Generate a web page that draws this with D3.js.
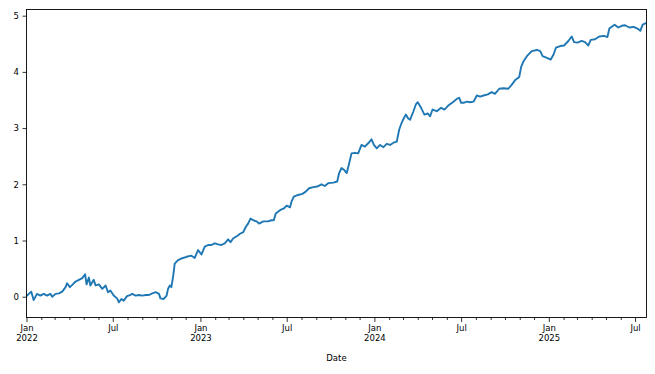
<!DOCTYPE html>
<html lang="en">

<head>
    <meta charset="UTF-8">
    <title>Cumulative series by date</title>
    <style>
        body { margin: 0; background: #fff; }
        text { font-family: "DejaVu Sans", sans-serif; }
    </style>
</head>

<body>
    <script src="https://cdn.jsdelivr.net/npm/d3@7"></script>
    <script>
        // values
        const dates = [
            '2022-01-01', '2022-01-11', '2022-01-16', '2022-01-23', '2022-01-30', '2022-02-06', '2022-02-13', '2022-02-20',
            '2022-02-24', '2022-03-03', '2022-03-10', '2022-03-17', '2022-03-24', '2022-03-27', '2022-04-02', '2022-04-07',
            '2022-04-14', '2022-04-21', '2022-04-28', '2022-05-04', '2022-05-07', '2022-05-12', '2022-05-15', '2022-05-22',
            '2022-05-26', '2022-06-02', '2022-06-09', '2022-06-16', '2022-06-21', '2022-06-26', '2022-07-03', '2022-07-10',
            '2022-07-14', '2022-07-19', '2022-07-24', '2022-07-31', '2022-08-06', '2022-08-11', '2022-08-18', '2022-08-25',
            '2022-09-01', '2022-09-08', '2022-09-15', '2022-09-22', '2022-09-29', '2022-10-06', '2022-10-09', '2022-10-16',
            '2022-10-22', '2022-10-25', '2022-10-29', '2022-11-01', '2022-11-05', '2022-11-08', '2022-11-15', '2022-11-22',
            '2022-12-03', '2022-12-13', '2022-12-20', '2022-12-27', '2023-01-03', '2023-01-10', '2023-01-17', '2023-01-24',
            '2023-01-31', '2023-02-07', '2023-02-14', '2023-02-21', '2023-02-28', '2023-03-05', '2023-03-11', '2023-03-19',
            '2023-03-25', '2023-04-01', '2023-04-06', '2023-04-11', '2023-04-16', '2023-04-22', '2023-04-29', '2023-05-04',
            '2023-05-13', '2023-05-23', '2023-05-30', '2023-06-04', '2023-06-08', '2023-06-17', '2023-06-25', '2023-07-01',
            '2023-07-08', '2023-07-11', '2023-07-16', '2023-07-25', '2023-08-03', '2023-08-10', '2023-08-17', '2023-08-26',
            '2023-09-03', '2023-09-12', '2023-09-19', '2023-09-26', '2023-10-07', '2023-10-15', '2023-10-19', '2023-10-24',
            '2023-10-29', '2023-11-04', '2023-11-09', '2023-11-14', '2023-11-21', '2023-11-28', '2023-12-05', '2023-12-12',
            '2023-12-19', '2023-12-26', '2023-12-31', '2024-01-06', '2024-01-13', '2024-01-20', '2024-01-27', '2024-02-03',
            '2024-02-10', '2024-02-17', '2024-02-22', '2024-02-27', '2024-03-03', '2024-03-07', '2024-03-12', '2024-03-16',
            '2024-03-23', '2024-03-28', '2024-04-01', '2024-04-08', '2024-04-15', '2024-04-22', '2024-04-27', '2024-05-02',
            '2024-05-11', '2024-05-20', '2024-05-27', '2024-06-04', '2024-06-15', '2024-06-22', '2024-06-27', '2024-07-01',
            '2024-07-06', '2024-07-13', '2024-07-20', '2024-07-27', '2024-08-03', '2024-08-10', '2024-08-17', '2024-08-26',
            '2024-09-03', '2024-09-10', '2024-09-19', '2024-09-28', '2024-10-08', '2024-10-15', '2024-10-22', '2024-10-31',
            '2024-11-04', '2024-11-09', '2024-11-16', '2024-11-26', '2024-12-07', '2024-12-14', '2024-12-19', '2024-12-28',
            '2025-01-05', '2025-01-11', '2025-01-16', '2025-01-25', '2025-02-02', '2025-02-11', '2025-02-18', '2025-02-23',
            '2025-03-02', '2025-03-11', '2025-03-18', '2025-03-25', '2025-03-30', '2025-04-08', '2025-04-17', '2025-04-27',
            '2025-05-04', '2025-05-08', '2025-05-19', '2025-05-27', '2025-06-03', '2025-06-10', '2025-06-19', '2025-06-28',
            '2025-07-06', '2025-07-12', '2025-07-17', '2025-07-25'
        ];
        const values = [
            0.01, 0.09, -0.06, 0.05, 0.02, 0.05, 0.02, 0.05,
            0.00, 0.05, 0.06, 0.09, 0.17, 0.24, 0.17, 0.21,
            0.27, 0.30, 0.33, 0.40, 0.22, 0.34, 0.20, 0.30,
            0.20, 0.22, 0.14, 0.20, 0.08, 0.11, 0.02, -0.03,
            -0.10, -0.04, -0.07, 0.01, 0.03, 0.05, 0.02, 0.03,
            0.02, 0.03, 0.03, 0.06, 0.08, 0.05, -0.03, -0.04,
            0.02, 0.14, 0.20, 0.17, 0.38, 0.59, 0.65, 0.68,
            0.71, 0.73, 0.69, 0.83, 0.75, 0.89, 0.92, 0.92,
            0.95, 0.93, 0.92, 0.95, 1.02, 0.97, 1.04, 1.08,
            1.12, 1.15, 1.24, 1.30, 1.39, 1.36, 1.34, 1.30,
            1.34, 1.34, 1.36, 1.36, 1.48, 1.54, 1.57, 1.62,
            1.59, 1.69, 1.78, 1.81, 1.83, 1.87, 1.93, 1.95,
            1.96, 2.00, 1.97, 2.02, 2.03, 2.05, 2.20, 2.29,
            2.26, 2.20, 2.37, 2.55, 2.56, 2.55, 2.70, 2.67,
            2.73, 2.80, 2.70, 2.64, 2.70, 2.66, 2.72, 2.70,
            2.74, 2.76, 2.97, 3.09, 3.18, 3.24, 3.17, 3.15,
            3.30, 3.42, 3.46, 3.36, 3.24, 3.26, 3.21, 3.33,
            3.30, 3.36, 3.33, 3.40, 3.47, 3.52, 3.54, 3.45,
            3.45, 3.47, 3.46, 3.47, 3.58, 3.56, 3.58, 3.60,
            3.64, 3.61, 3.70, 3.71, 3.70, 3.77, 3.85, 3.91,
            4.09, 4.19, 4.28, 4.37, 4.39, 4.37, 4.28, 4.25,
            4.22, 4.31, 4.43, 4.46, 4.47, 4.55, 4.63, 4.53,
            4.52, 4.55, 4.53, 4.47, 4.57, 4.58, 4.63, 4.64,
            4.62, 4.77, 4.84, 4.79, 4.82, 4.83, 4.79, 4.80,
            4.77, 4.73, 4.84, 4.87
        ];
        const yTicks = [0, 1, 2, 3, 4, 5];
        const xLabel = 'Date';

        const w = 655;
        const h = 374;
        const m = { left: 26.5, right: 646.5, top: 9.5, bottom: 317.5 };

        const parse = d3.timeParse('%Y-%m-%d');
        const data = dates.map((d, i) => ({ date: parse(d), value: values[i] }));

        const xScale = d3.scaleTime()
            .domain(d3.extent(data, d => d.date))
            .range([m.left, m.right]);

        const yScale = d3.scaleLinear()
            .domain([-0.37, 5.11])
            .range([m.bottom, m.top]);

        const svg = d3.select('body')
            .append('svg')
            .attr('width', w)
            .attr('height', h);

        // minor ticks every month, major ticks every 6 months
        const [x0, x1] = xScale.domain();
        const months = d3.timeMonth.range(d3.timeMonth.ceil(x0), d3.timeDay.offset(x1, 1));
        const majors = months.filter(d => d.getMonth() % 6 === 0);
        const minors = months.filter(d => d.getMonth() % 6 !== 0);

        svg.append('g')
            .attr('transform', `translate(0,${m.bottom})`)
            .call(d3.axisBottom(xScale).tickValues(minors).tickSize(2.5).tickFormat(''))
            .call(g => g.select('.domain').remove());

        const xAxis = svg.append('g')
            .attr('transform', `translate(0,${m.bottom})`)
            .call(d3.axisBottom(xScale).tickValues(majors).tickSize(4.5).tickPadding(3)
                .tickFormat(d3.timeFormat('%b')))
            .call(g => g.select('.domain').remove());

        xAxis.selectAll('.tick text')
            .attr('font-size', 8.5)
            .attr('fill', '#000')
            .each(function (d) {
                if (d.getMonth() === 0) {
                    d3.select(this).append('tspan')
                        .attr('x', 0)
                        .attr('dy', '1.15em')
                        .text(d.getFullYear());
                }
            });

        const yAxis = svg.append('g')
            .attr('transform', `translate(${m.left},0)`)
            .call(d3.axisLeft(yScale).tickValues(yTicks).tickSize(4).tickPadding(3.5)
                .tickFormat(d3.format('d')))
            .call(g => g.select('.domain').remove());

        yAxis.selectAll('.tick text')
            .attr('font-size', 8.5)
            .attr('fill', '#000');

        svg.selectAll('.tick line').attr('stroke', '#000').attr('stroke-width', 0.8);

        const line = d3.line()
            .x(d => xScale(d.date))
            .y(d => yScale(d.value));

        svg.append('defs').append('clipPath').attr('id', 'clip')
            .append('rect')
            .attr('x', m.left).attr('y', m.top)
            .attr('width', m.right - m.left).attr('height', m.bottom - m.top);

        svg.append('path')
            .datum(data)
            .attr('clip-path', 'url(#clip)')
            .attr('fill', 'none')
            .attr('stroke', '#1f77b4')
            .attr('stroke-width', 1.9)
            .attr('stroke-linejoin', 'round')
            .attr('d', line);

        svg.append('rect')
            .attr('x', m.left).attr('y', m.top)
            .attr('width', m.right - m.left).attr('height', m.bottom - m.top)
            .attr('fill', 'none')
            .attr('stroke', '#000')
            .attr('stroke-width', 0.9);

        svg.append('text')
            .attr('x', (m.left + m.right) / 2)
            .attr('y', 361)
            .attr('text-anchor', 'middle')
            .attr('font-size', 8.5)
            .text(xLabel);
    </script>
</body>

</html>
